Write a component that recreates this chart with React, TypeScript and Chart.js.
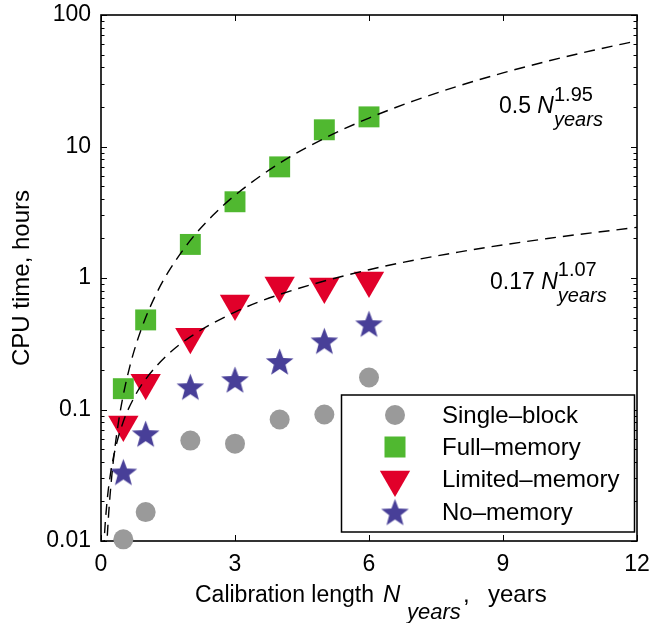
import React, { useEffect, useRef } from 'react';
import { Chart, registerables } from 'chart.js';

Chart.register(...registerables);

// ---------------- data ----------------
const xYears = [0.5, 1, 2, 3, 4, 5, 6];
const singleBlock = [0.0103, 0.0166, 0.058, 0.055, 0.084, 0.0917, 0.175];
const fullMemory = [0.144, 0.48, 1.8, 3.8, 7.0, 13.4, 16.8];
const limitedMemory = [0.077, 0.16, 0.357, 0.64, 0.877, 0.863, 0.957];
const noMemory = [0.0335, 0.0655, 0.149, 0.169, 0.232, 0.333, 0.449];

// fitted curves
const fitFullX = [0.12, 0.14, 0.17, 0.2, 0.25, 0.3, 0.4, 0.5, 0.65, 0.8, 1, 1.25, 1.5, 2, 2.5, 3, 4, 5, 6, 7, 8, 9, 10, 11, 12];
const fitFullY = [0.008, 0.01081, 0.01579, 0.02168, 0.03349, 0.04779, 0.08375, 0.1294, 0.2158, 0.3236, 0.5, 0.7726, 1.102, 1.932, 2.985, 4.26, 7.464, 11.53, 16.46, 22.23, 28.84, 36.29, 44.56, 53.66, 63.59];
const fitLimX = [0.06, 0.08, 0.1, 0.15, 0.2, 0.3, 0.5, 0.75, 1, 1.5, 2, 3, 4, 6, 8, 10, 12];
const fitLimY = [0.00838, 0.0114, 0.01447, 0.02233, 0.03038, 0.04688, 0.08097, 0.125, 0.17, 0.2623, 0.3569, 0.5508, 0.7493, 1.156, 1.573, 1.997, 2.428];

const yTickValues = [
  0.01, 0.02, 0.03, 0.04, 0.05, 0.06, 0.07, 0.08, 0.09,
  0.1, 0.2, 0.3, 0.4, 0.5, 0.6, 0.7, 0.8, 0.9,
  1, 2, 3, 4, 5, 6, 7, 8, 9,
  10, 20, 30, 40, 50, 60, 70, 80, 90, 100,
];
const yMajorValues = [0.01, 0.1, 1, 10, 100];
const yMajorLabels = ['0.01', '0.1', '1', '10', '100'];
const xTickValues = [0, 3, 6, 9, 12];

const seriesNames = ['Single\u2013block', 'Full\u2013memory', 'Limited\u2013memory', 'No\u2013memory'];

const FONT = '"Liberation Sans", Arial, Helvetica, sans-serif';
const GRAY = '#9a9a9a';
const GREEN = '#50b830';
const RED = '#e1002a';
const BLUE = '#483f98';

const pts = (xs: number[], ys: number[]) => xs.map((x, i) => ({ x, y: ys[i] }));

function makeStar(color: string, R: number) {
  const c = document.createElement('canvas');
  const s = Math.ceil(R * 2 + 2);
  c.width = s;
  c.height = s;
  const g = c.getContext('2d')!;
  const cx = s / 2;
  const cy = s / 2 + R * 0.1;
  const r = R * 0.42;
  g.beginPath();
  for (let i = 0; i < 10; i++) {
    const rad = i % 2 === 0 ? R : r;
    const a = -Math.PI / 2 + (i * Math.PI) / 5;
    const px = cx + rad * Math.cos(a);
    const py = cy + rad * Math.sin(a);
    if (i === 0) g.moveTo(px, py);
    else g.lineTo(px, py);
  }
  g.closePath();
  g.fillStyle = color;
  g.fill();
  return c;
}

type Span = { t: string; size: number; italic?: boolean; dy?: number; stack?: boolean; at?: number };

function drawRich(ctx: CanvasRenderingContext2D, x: number, base: number, spans: Span[]) {
  let cx = x;
  let stackStart = x;
  let stackMax = 0;
  spans.forEach((s) => {
    ctx.font = `${s.italic ? 'italic ' : ''}${s.size}px ${FONT}`;
    const w = ctx.measureText(s.t).width;
    if (s.at !== undefined) {
      cx = s.at;
    }
    if (s.stack) {
      ctx.fillText(s.t, stackStart, base + (s.dy || 0));
      stackMax = Math.max(stackMax, w);
      cx = stackStart + stackMax;
    } else {
      ctx.fillText(s.t, cx, base + (s.dy || 0));
      stackStart = cx + w;
      stackMax = 0;
      cx += w;
    }
  });
}

export default function App() {
  const ref = useRef<HTMLCanvasElement | null>(null);

  useEffect(() => {
    if (!ref.current) return;
    const star = makeStar(BLUE, 14.5);

    const overlay = {
      id: 'overlay',
      beforeDatasetsDraw(chart: any) {
        const { ctx, chartArea: a, scales } = chart;
        ctx.save();
        ctx.strokeStyle = '#000';
        ctx.lineWidth = 1;
        yTickValues.forEach((v) => {
          const p = Math.round(scales.y.getPixelForValue(v)) + 0.5;
          const len = yMajorValues.includes(v) ? 6 : 3.5;
          ctx.beginPath();
          ctx.moveTo(a.left, p);
          ctx.lineTo(a.left + len, p);
          ctx.moveTo(a.right, p);
          ctx.lineTo(a.right - len, p);
          ctx.stroke();
        });
        xTickValues.forEach((v) => {
          const p = Math.round(scales.x.getPixelForValue(v)) + 0.5;
          ctx.beginPath();
          ctx.moveTo(p, a.bottom);
          ctx.lineTo(p, a.bottom - 6);
          ctx.moveTo(p, a.top);
          ctx.lineTo(p, a.top + 6);
          ctx.stroke();
        });
        ctx.lineWidth = 1.6;
        ctx.strokeRect(a.left, a.top, a.right - a.left, a.bottom - a.top);
        ctx.restore();
      },
      afterDraw(chart: any) {
        const { ctx, chartArea: a } = chart;
        ctx.save();
        ctx.fillStyle = '#000';
        ctx.textBaseline = 'alphabetic';
        ctx.textAlign = 'left';
        // fit annotations
        drawRich(ctx, a.left + 398, a.top + 98, [
          { t: '0.5 ', size: 23 },
          { t: 'N', size: 23, italic: true },
          { t: '1.95', size: 20, dy: -12, stack: true },
          { t: 'years', size: 20, italic: true, dy: 13, stack: true },
        ]);
        drawRich(ctx, a.left + 389, a.top + 274, [
          { t: '0.17 ', size: 23 },
          { t: 'N', size: 23, italic: true },
          { t: '1.07', size: 20, dy: -13, stack: true },
          { t: 'years', size: 20, italic: true, dy: 13, stack: true },
        ]);
        // x-axis title
        drawRich(ctx, 195, 602, [
          { t: 'Calibration length ', size: 23 },
          { t: 'N', size: 24, italic: true, at: 383 },
          { t: 'years', size: 22, italic: true, dy: 17, at: 407 },
          { t: ',', size: 24, at: 463 },
          { t: 'years', size: 24, at: 488 },
        ]);
        // legend
        const L = a.left + 240.5;
        const T = a.top + 380;
        const R = a.right - 2.5;
        const B = a.bottom - 9;
        ctx.fillStyle = '#fff';
        ctx.fillRect(L, T, R - L, B - T);
        ctx.strokeStyle = '#000';
        ctx.lineWidth = 1.5;
        ctx.strokeRect(L, T, R - L, B - T);
        const mx = a.left + 294;
        const tx = a.left + 341;
        const rows = [T + 20, T + 52, T + 84.5, T + 117];
        // circle
        ctx.fillStyle = GRAY;
        ctx.beginPath();
        ctx.arc(mx, rows[0], 10, 0, Math.PI * 2);
        ctx.fill();
        // square
        ctx.fillStyle = GREEN;
        ctx.fillRect(mx - 10.5, rows[1] - 10.5, 21, 21);
        // triangle down
        ctx.fillStyle = RED;
        const tr = 17.5;
        ctx.beginPath();
        ctx.moveTo(mx, rows[2] + tr);
        ctx.lineTo(mx - tr * Math.sin(Math.PI / 3), rows[2] - tr / 2);
        ctx.lineTo(mx + tr * Math.sin(Math.PI / 3), rows[2] - tr / 2);
        ctx.closePath();
        ctx.fill();
        // star
        ctx.drawImage(star, mx - star.width / 2, rows[3] - star.height / 2);
        ctx.fillStyle = '#000';
        ctx.font = `24px ${FONT}`;
        ctx.textBaseline = 'middle';
        seriesNames.forEach((n, i) => ctx.fillText(n, tx, rows[i] + 1));
        ctx.restore();
      },
    };

    const chart = new Chart(ref.current, {
      type: 'scatter',
      data: {
        datasets: [
          {
            label: 'fit full',
            data: pts(fitFullX, fitFullY),
            showLine: true,
            borderColor: '#000',
            borderWidth: 1.4,
            borderDash: [11, 7],
            pointRadius: 0,
            cubicInterpolationMode: 'monotone',
            clip: 0,
            order: 0,
          },
          {
            label: 'fit limited',
            data: pts(fitLimX, fitLimY),
            showLine: true,
            borderColor: '#000',
            borderWidth: 1.4,
            borderDash: [11, 7],
            pointRadius: 0,
            cubicInterpolationMode: 'monotone',
            clip: 0,
            order: 0,
          },
          {
            label: seriesNames[0],
            data: pts(xYears, singleBlock),
            pointStyle: 'circle',
            pointRadius: 10,
            backgroundColor: GRAY,
            borderWidth: 0,
            clip: false,
            order: 1,
          },
          {
            label: seriesNames[1],
            data: pts(xYears, fullMemory),
            pointStyle: 'rect',
            pointRadius: 14.8,
            backgroundColor: GREEN,
            borderWidth: 0,
            clip: false,
            order: 1,
          },
          {
            label: seriesNames[2],
            data: pts(xYears, limitedMemory),
            pointStyle: 'triangle',
            pointRotation: 180,
            pointRadius: 17.5,
            backgroundColor: RED,
            borderWidth: 0,
            clip: false,
            order: 1,
          },
          {
            label: seriesNames[3],
            data: pts(xYears, noMemory),
            pointStyle: star,
            pointRadius: 14.5,
            backgroundColor: BLUE,
            borderWidth: 0,
            clip: false,
            order: 1,
          },
        ],
      } as any,
      options: {
        responsive: false,
        animation: false,
        devicePixelRatio: 1,
        layout: { autoPadding: false, padding: { top: 15, right: 14, left: 0, bottom: 0 } },
        plugins: {
          legend: { display: false },
          tooltip: { enabled: false },
        },
        scales: {
          x: {
            type: 'linear',
            min: 0,
            max: 12,
            afterBuildTicks: (s: any) => {
              s.ticks = xTickValues.map((v) => ({ value: v }));
            },
            afterFit: (s: any) => {
              s.height = 82;
              s.paddingLeft = 0;
              s.paddingRight = 0;
            },
            grid: { display: false, drawTicks: false },
            border: { display: false },
            ticks: {
              padding: 10,
              color: '#000',
              font: { family: FONT, size: 23 },
              maxRotation: 0,
              autoSkip: false,
              callback: (v: any) => String(v),
            },
          },
          y: {
            type: 'logarithmic',
            min: 0.01,
            max: 100,
            afterBuildTicks: (s: any) => {
              s.ticks = yTickValues.map((v) => ({ value: v }));
            },
            afterFit: (s: any) => {
              s.width = 101;
              s.paddingTop = 0;
              s.paddingBottom = 0;
            },
            grid: { display: false, drawTicks: false },
            border: { display: false },
            ticks: {
              padding: 10,
              color: '#000',
              autoSkip: false,
              font: { family: FONT, size: 23 },
              callback: (v: any) => {
                const i = yMajorValues.indexOf(Number(v));
                return i >= 0 ? yMajorLabels[i] : '';
              },
            },
            title: {
              display: true,
              text: 'CPU time, hours',
              color: '#000',
              font: { family: FONT, size: 24 },
              padding: { top: 8, bottom: 0 },
            },
          },
        },
      } as any,
      plugins: [overlay],
    });
    return () => chart.destroy();
  }, []);

  return (
    <div style={{ position: 'fixed', left: 0, top: 0, width: 651, height: 623, background: '#fff' }}>
      <canvas ref={ref} width={651} height={623} style={{ width: 651, height: 623, display: 'block' }} />
    </div>
  );
}
